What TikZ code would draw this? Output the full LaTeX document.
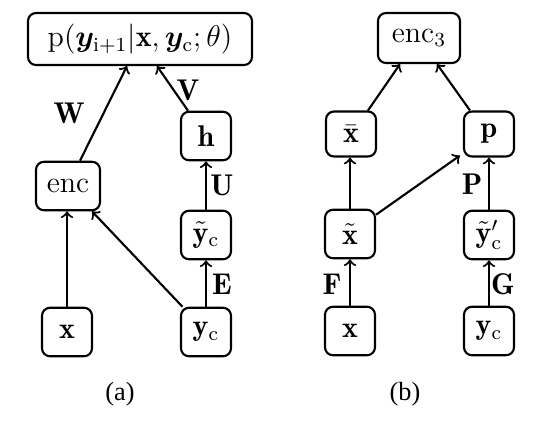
\documentclass[tikz,border=0pt]{standalone}
\usepackage{amsmath,bm}
\usepackage{fontspec}
\usetikzlibrary{calc}
\begin{document}
\begin{tikzpicture}[x=0.4pt,y=-0.4pt, font=\fontsize{12}{14}\selectfont,
  box/.style={draw, line width=0.85pt, rounded corners=3.2pt, minimum width=20pt, minimum height=19.4pt, inner sep=1.5pt},
  arr/.style={->, line width=0.85pt},
  lab/.style={inner sep=0pt},
  captext/.style={inner sep=0pt, font={\fontspec{Liberation Serif}\fontsize{10.5}{12}\selectfont}}]
\path[use as bounding box] (0,0) rectangle (554,423);
% (a)
\node[box, minimum width=89.6pt, minimum height=20.8pt, inner sep=3pt] (top) at (140,39) {$\mathrm{p}(\bm{y}_{\mathrm{i+1}}|\mathbf{x},\bm{y}_{\mathrm{c}};\theta)$};
\node[box, minimum width=25.6pt] (enc) at (68,186) {enc};
\node[box] (h) at (206,136) {$\mathbf{h}$};
\node[box] (ytc) at (206,235) {$\tilde{\mathbf{y}}_{\mathrm{c}}$};
\node[box] (xa) at (67,332) {$\mathbf{x}$};
\node[box] (yca) at (206,332) {$\mathbf{y}_{\mathrm{c}}$};
\node[captext] (capa) at (120,394) {(a)};
\draw[arr] ([xshift=4.8pt]enc.north) -- ([xshift=-5.2pt]top.south);
\draw[arr] ([xshift=-7.2pt]h.north) -- ([xshift=6.8pt]top.south);
\draw[arr] (ytc) -- (h);
\draw[arr] (yca) -- (ytc);
\draw[arr] (xa.north) -- (xa.north |- enc.south);
\draw[arr] ([xshift=1pt]yca.north west) -- ([xshift=9.6pt]enc.south);
\node[lab] (W) at (69,113) {$\mathbf{W}$};
\node[lab] (V) at (188,90) {$\mathbf{V}$};
\node[lab] (U) at (222,185) {$\mathbf{U}$};
\node[lab] (E) at (222,284) {$\mathbf{E}$};
% (b)
\node[box, minimum width=32.8pt, minimum height=20pt] (enc3) at (419,38) {enc$_3$};
\node[box, minimum height=18pt] (xbar) at (351,134) {$\bar{\mathbf{x}}$};
\node[box, minimum height=18pt] (p) at (489,134) {$\mathbf{p}$};
\node[box] (xt) at (350,234) {$\tilde{\mathbf{x}}$};
\node[box] (ytp) at (489,235) {$\tilde{\mathbf{y}}'_{\mathrm{c}}$};
\node[box] (xb) at (350,331) {$\mathbf{x}$};
\node[box] (ycb) at (489,331) {$\mathbf{y}_{\mathrm{c}}$};
\node[captext] (capb) at (405,394) {(b)};
\draw[arr] ([xshift=6.8pt]xbar.north) -- ([xshift=-7.6pt]enc3.south);
\draw[arr] ([xshift=-7.6pt]p.north) -- ([xshift=7.2pt]enc3.south);
\draw[arr] (xt.north) -- (xt.north |- xbar.south);
\draw[arr] (xb) -- (xt);
\draw[arr] (ycb) -- (ytp);
\draw[arr] (ytp) -- (p);
\draw[arr] ([yshift=-2.4pt]xt.north east) -- ([xshift=-1.2pt,yshift=0.8pt]p.south west);
\node[lab] (P) at (472,184) {$\mathbf{P}$};
\node[lab] (F) at (332,284) {$\mathbf{F}$};
\node[lab] (G) at (503,284) {$\mathbf{G}$};
\end{tikzpicture}
\end{document}
